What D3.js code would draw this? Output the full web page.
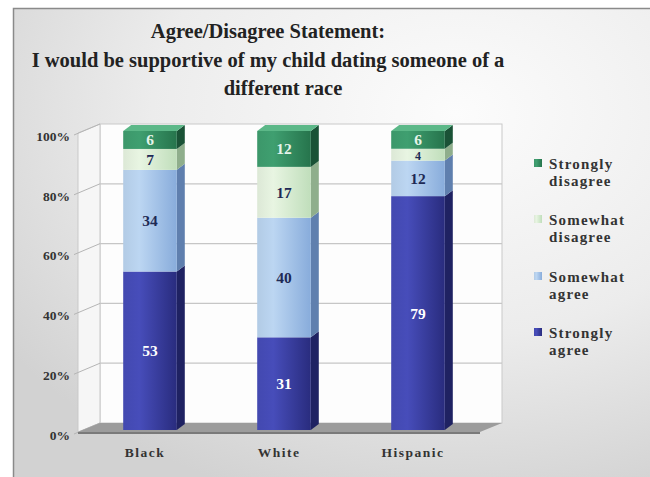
<!DOCTYPE html>
<html>
<head>
<meta charset="utf-8">
<script src="https://cdn.jsdelivr.net/npm/d3@7"></script>
<style>
  html, body { margin: 0; padding: 0; background: #fff; }
  svg { display: block; }
  text { font-family: "Liberation Serif", "Times New Roman", Times, serif; font-weight: bold; }
</style>
</head>
<body>
<svg id="chart"></svg>
<script>
// chart values
const categories = ["Black", "White", "Hispanic"];
const seriesNames = ["Strongly agree", "Somewhat agree", "Somewhat disagree", "Strongly disagree"];
const stronglyAgree = [53, 31, 79];
const somewhatAgree = [34, 40, 12];
const somewhatDisagree = [7, 17, 4];
const stronglyDisagree = [6, 12, 6];
const yTicks = [0, 0.2, 0.4, 0.6, 0.8, 1];
const titleLines = ["Agree/Disagree Statement:", "I would be supportive of my child dating someone of a", "different race"];
const legendLines = [["Strongly", "disagree"], ["Somewhat", "disagree"], ["Somewhat", "agree"], ["Strongly", "agree"]];

const width = 650, height = 477;

// colours per series: [left light, right dark, side, top, label]
const palette = {
    "Strongly agree":    { l: "#474dba", r: "#292c7e", side: "#1f2262", top: "#5a60c4", label: "#ffffff" },
    "Somewhat agree":    { l: "#bcd6f2", r: "#88acdb", side: "#5f7fae", top: "#d2e4f8", label: "#1e2a55" },
    "Somewhat disagree": { l: "#e8f5e2", r: "#c0debb", side: "#8fae8c", top: "#f2faee", label: "#1e2a55" },
    "Strongly disagree": { l: "#3f9f70", r: "#26744c", side: "#1a5236", top: "#5cb888", label: "#e6f4ea" }
};

const table = categories.map((c, i) => ({
    category: c,
    "Strongly agree": stronglyAgree[i],
    "Somewhat agree": somewhatAgree[i],
    "Somewhat disagree": somewhatDisagree[i],
    "Strongly disagree": stronglyDisagree[i]
}));

const stacked = d3.stack()
    .keys(seriesNames)
    .offset(d3.stackOffsetExpand)(table);

const svg = d3.select("#chart")
    .attr("width", width)
    .attr("height", height);

const defs = svg.append("defs");

// background gradient
const bg = defs.append("radialGradient")
    .attr("id", "bg")
    .attr("cx", "68%").attr("cy", "22%").attr("r", "85%");
bg.append("stop").attr("offset", "0%").attr("stop-color", "#fcfcfc");
bg.append("stop").attr("offset", "55%").attr("stop-color", "#ececec");
bg.append("stop").attr("offset", "100%").attr("stop-color", "#d2d2d2");

// front face gradients
seriesNames.forEach((s, i) => {
    const g = defs.append("linearGradient")
        .attr("id", "front" + i)
        .attr("x1", "0%").attr("x2", "100%");
    g.append("stop").attr("offset", "0%").attr("stop-color", d3.color(palette[s].l).darker(0.15));
    g.append("stop").attr("offset", "30%").attr("stop-color", palette[s].l);
    g.append("stop").attr("offset", "100%").attr("stop-color", palette[s].r);
});

// frame
svg.append("rect")
    .attr("x", 13.5).attr("y", 8.5)
    .attr("width", width).attr("height", height)
    .attr("fill", "url(#bg)")
    .attr("stroke", "#8a8a8a")
    .attr("stroke-width", 1.5);

// title
const titleX = [268, 268, 283];
const titleY = [38, 67, 95];
svg.selectAll("text.title")
    .data(titleLines)
    .enter()
    .append("text")
    .attr("class", "title")
    .attr("x", (d, i) => titleX[i])
    .attr("y", (d, i) => titleY[i])
    .attr("text-anchor", "middle")
    .style("font-size", "20.5px")
    .style("fill", "#222")
    .text(d => d);

// 3d geometry
const floorFront = 432;
const depthX = 22, depthY = 9;
const frontLeft = 78, frontRight = 480;

const x = d3.scaleBand()
    .domain(categories)
    .range([frontLeft, frontRight])
    .paddingInner(0.6)
    .paddingOuter(0.3);

const y = d3.scaleLinear()
    .domain([0, 1])
    .range([floorFront, 133]);

// back wall
const wall = svg.append("g");
wall.append("rect")
    .attr("x", frontLeft + depthX)
    .attr("y", y(1) - depthY)
    .attr("width", frontRight - frontLeft)
    .attr("height", y(0) - y(1))
    .attr("fill", "#fdfdfd")
    .attr("stroke", "#c9c9c9");

// side wall
wall.append("polygon")
    .attr("points", [
        [frontLeft, y(0)], [frontLeft + depthX, y(0) - depthY],
        [frontLeft + depthX, y(1) - depthY], [frontLeft, y(1)]
    ].join(" "))
    .attr("fill", "#f6f6f6")
    .attr("stroke", "#c9c9c9");

// grid lines on walls
wall.selectAll("line.grid-back")
    .data(yTicks.slice(1, -1))
    .enter()
    .append("line")
    .attr("x1", frontLeft + depthX)
    .attr("x2", frontRight + depthX)
    .attr("y1", d => y(d) - depthY)
    .attr("y2", d => y(d) - depthY)
    .attr("stroke", "#c6c6c6")
    .attr("stroke-width", 1.2);

wall.selectAll("line.grid-side")
    .data(yTicks)
    .enter()
    .append("line")
    .attr("x1", frontLeft - 4)
    .attr("x2", frontLeft + depthX)
    .attr("y1", d => y(d) + 2)
    .attr("y2", d => y(d) - depthY)
    .attr("stroke", "#b5b5b5")
    .attr("stroke-width", 1);

// floor
svg.append("polygon")
    .attr("points", [
        [frontLeft, floorFront], [frontLeft + depthX, floorFront - depthY],
        [frontRight + depthX, floorFront - depthY], [frontRight, floorFront]
    ].join(" "))
    .attr("fill", "#9c9c9c");
svg.append("rect")
    .attr("x", frontLeft).attr("y", floorFront)
    .attr("width", frontRight - frontLeft).attr("height", 2)
    .attr("fill", "#7a7a7a");

// y axis labels
const yAxis = d3.axisLeft(y)
    .tickValues(yTicks)
    .tickSize(0)
    .tickPadding(0)
    .tickFormat(d3.format(".0%"));
const yAxisGroup = svg.append("g")
    .attr("transform", "translate(70,3)")
    .style("font-size", "13.5px")
    .style("font-family", "'Liberation Serif', 'Times New Roman', serif")
    .style("font-weight", "bold");
yAxis(yAxisGroup);
yAxisGroup.select(".domain").remove();
yAxisGroup.selectAll("text").style("fill", "#333");

// bars
const barShiftX = 5, barShiftY = -2;
const bdx = 8, bdy = 6;
const bars = svg.append("g");

stacked.forEach((layer, li) => {
    const s = layer.key;
    const isTop = li === stacked.length - 1;
    layer.forEach((d, ci) => {
        const x0 = x(categories[ci]) + barShiftX;
        const x1 = x0 + x.bandwidth();
        const yTop = y(d[1]) + barShiftY;
        const yBot = y(d[0]) + barShiftY;
        const segH = yBot - yTop;

        // side face
        bars.append("polygon")
            .attr("points", [
                [x1, yBot], [x1 + bdx, yBot - bdy], [x1 + bdx, yTop - bdy], [x1, yTop]
            ].join(" "))
            .attr("fill", palette[s].side);

        // front face
        bars.append("rect")
            .attr("x", x0)
            .attr("y", yTop)
            .attr("width", x.bandwidth())
            .attr("height", segH)
            .attr("fill", "url(#front" + li + ")");

        if (isTop) {
            bars.append("polygon")
                .attr("points", [
                    [x0, yTop], [x0 + bdx, yTop - bdy], [x1 + bdx, yTop - bdy], [x1, yTop]
                ].join(" "))
                .attr("fill", palette[s].top);
        }

        // value label (thin segments get a smaller label)
        const small = segH < 14;
        bars.append("text")
            .attr("x", (x0 + x1) / 2)
            .attr("y", (yTop + yBot) / 2 + (small ? 1.5 : 0))
            .attr("text-anchor", "middle")
            .attr("dominant-baseline", "central")
            .style("font-size", small ? "12px" : "15.5px")
            .style("fill", palette[s].label)
            .text(d.data[s]);
    });
});

// x axis labels
svg.selectAll("text.xlabel")
    .data(categories)
    .enter()
    .append("text")
    .attr("class", "xlabel")
    .attr("x", d => x(d) + x.bandwidth() / 2)
    .attr("y", 457)
    .attr("text-anchor", "middle")
    .style("font-size", "13.5px")
    .style("letter-spacing", "1.5px")
    .style("fill", "#333")
    .text(d => d);

// legend (top entry is last series)
const legendOrder = seriesNames.slice().reverse();
const legendY = [163, 219, 276, 332];
const legend = svg.append("g");
legendOrder.forEach((s, i) => {
    const li = seriesNames.indexOf(s);
    legend.append("rect")
        .attr("x", 534)
        .attr("y", legendY[i] - 4)
        .attr("width", 8)
        .attr("height", 8)
        .attr("fill", "url(#front" + li + ")");
    legendLines[i].forEach((line, k) => {
        legend.append("text")
            .attr("x", 549)
            .attr("y", legendY[i] + 6 + k * 17)
            .style("font-size", "15px")
            .style("letter-spacing", "1.2px")
            .style("fill", "#333")
            .text(line);
    });
});
</script>
</body>
</html>
